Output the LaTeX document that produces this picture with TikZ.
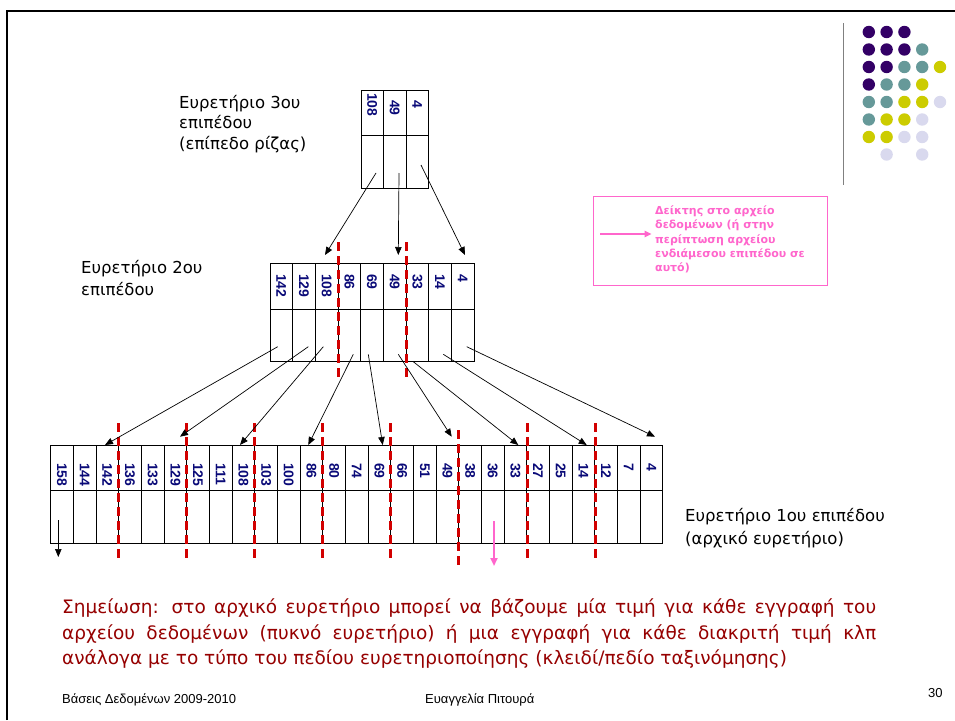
\documentclass[tikz,border=0pt]{standalone}
\usepackage{fontspec}
\setmainfont{DejaVu Sans}
\newfontfamily\comic{DejaVu Sans}
\newfontfamily\arialf{Liberation Sans}
\usetikzlibrary{arrows.meta}
\definecolor{navyc}{RGB}{10,10,120}
\definecolor{redd}{RGB}{210,0,0}
\definecolor{pinkc}{RGB}{255,102,204}
\definecolor{notered}{RGB}{150,0,0}
\definecolor{dpurple}{RGB}{51,0,102}
\definecolor{dteal}{RGB}{102,153,153}
\definecolor{dyellow}{RGB}{204,204,0}
\definecolor{dlav}{RGB}{217,217,238}
\tikzset{
  cell/.style={draw=black, line width=0.8pt},
  num/.style={font=\arialf\bfseries\fontsize{14}{14}\selectfont, text=navyc, rotate=-90, anchor=west, inner sep=0pt},
  arr/.style={-{Triangle[length=8pt,width=6.5pt]}, line width=0.7pt, black},
  rdash/.style={draw=redd, line width=3pt, dash pattern=on 9pt off 5pt},
  lbl/.style={font=\comic\fontsize{16.5}{20}\selectfont, anchor=base west, inner sep=0pt},
  notel/.style={font=\comic\fontsize{18.5}{24}\selectfont, text=notered, anchor=base west, inner sep=0pt},
  legl/.style={font=\comic\bfseries\fontsize{11}{14}\selectfont, text=pinkc, anchor=base west, inner sep=0pt},
  foot/.style={font=\arialf\fontsize{13}{15}\selectfont, anchor=base west, inner sep=0pt},
  dot/.style={radius=6.2pt}
}
\begin{document}
\begin{tikzpicture}[x=1pt,y=-1pt]
\useasboundingbox (0,0) rectangle (955,720);
\fill[white] (0,0) rectangle (955,720);
% slide border
\draw[line width=2pt] (7,720) -- (7,11) -- (955,11);
% decoration
\draw[gray, line width=1pt] (843,23) -- (843,185);
\foreach \i/\j in {1/1,2/1,3/1,1/2,2/2,3/2,1/3,2/3,1/4}
  \fill[dpurple] ({851+17.8*\i},{14.5+17.5*\j}) circle[dot];
\foreach \i/\j in {4/2,3/3,4/3,2/4,3/4,1/5,2/5,1/6}
  \fill[dteal] ({851+17.8*\i},{14.5+17.5*\j}) circle[dot];
\foreach \i/\j in {5/3,4/4,3/5,4/5,2/6,3/6,1/7,2/7}
  \fill[dyellow] ({851+17.8*\i},{14.5+17.5*\j}) circle[dot];
\foreach \i/\j in {5/5,4/6,3/7,4/7,2/8,4/8}
  \fill[dlav] ({851+17.8*\i},{14.5+17.5*\j}) circle[dot];

% ---------- root (level 3)
\foreach \k in {0,1,2} {
  \draw[cell] ({361+22.5*\k},90) rectangle ({361+22.5*(\k+1)},135);
  \draw[cell] ({361+22.5*\k},135) rectangle ({361+22.5*(\k+1)},188);
}
\node[num] (t1) at (372.25,93) {108};
\node[num] (t2) at (394.75,100) {49};
\node[num] (t3) at (417.25,100) {4};

% ---------- level 2
\foreach \lab [count=\k from 0] in {142,129,108,86,69,49,33,14,4} {
  \draw[cell] ({270+22.67*\k},263.3) rectangle ({270+22.67*(\k+1)},309);
  \draw[cell] ({270+22.67*\k},309) rectangle ({270+22.67*(\k+1)},361.7);
  \node[num] (s\k) at ({270+22.67*(\k+0.5)},274) {\lab};
}

% ---------- level 1
\foreach \lab [count=\k from 0] in {158,144,142,136,133,129,125,111,108,103,100,86,80,74,69,66,51,49,38,36,33,27,25,14,12,7,4} {
  \draw[cell] ({50.7+22.67*\k},445) rectangle ({50.7+22.67*(\k+1)},490.3);
  \draw[cell] ({50.7+22.67*\k},490.3) rectangle ({50.7+22.67*(\k+1)},543);
  \node[num] (f\k) at ({50.7+22.67*(\k+0.5)},463) {\lab};
}

% ---------- red dashed separators
\draw[rdash] (338.3,242) -- (338.3,380);
\draw[rdash] (406.7,242) -- (406.7,380);
\foreach \xx in {118.7,186.7,254.7,322.7,390.7,527.3,595.3}
  \draw[rdash] (\xx,423) -- (\xx,558);
\draw[rdash] (458.7,430) -- (458.7,566);

% ---------- arrows root -> level 2
\coordinate (a1s) at (376,173);   \coordinate (a1e) at (325,255);
\coordinate (a2s) at (399,173);   \coordinate (a2e) at (398.3,255);
\coordinate (a3s) at (421,165);   \coordinate (a3e) at (465,255);
\draw[arr] (a1s) -- (a1e);
\draw[arr] (a2s) -- (a2e);
\draw[arr] (a3s) -- (a3e);

% ---------- arrows level 2 -> level 1
\coordinate (b1s) at (277.7,346.7); \coordinate (b1e) at (105,445);
\coordinate (b2s) at (308.3,346.7); \coordinate (b2e) at (180,436.7);
\coordinate (b3s) at (323.3,346.7); \coordinate (b3e) at (240,445);
\coordinate (b4s) at (353.3,354.3); \coordinate (b4e) at (308.3,445);
\coordinate (b5s) at (368.3,354.3); \coordinate (b5e) at (382.7,445);
\coordinate (b6s) at (398.3,354.3); \coordinate (b6e) at (451.7,436.7);
\coordinate (b7s) at (413.3,361.7); \coordinate (b7e) at (518.3,445);
\coordinate (b8s) at (443.3,354.3); \coordinate (b8e) at (586.7,445);
\coordinate (b9s) at (466.7,346.7); \coordinate (b9e) at (655,436.7);
\foreach \n in {1,...,9} \draw[arr] (b\n s) -- (b\n e);

% ---------- arrows out of level 1
\coordinate (c1s) at (58.3,520); \coordinate (c1e) at (58.3,557);
\draw[arr] (c1s) -- (c1e);
\coordinate (p1s) at (494,521); \coordinate (p1e) at (494,566);
\draw[-{Triangle[length=8pt,width=7pt]}, line width=2.2pt, pinkc] (p1s) -- (p1e);

% ---------- legend
\node[draw=pinkc, line width=0.8pt, minimum width=234.6pt, minimum height=89pt, anchor=north west, inner sep=0pt] (legend) at (592.7,196) {};
\coordinate (l1s) at (600,234); \coordinate (l1e) at (651.7,234);
\draw[-{Triangle[length=7pt,width=6pt]}, line width=2.2pt, pinkc] (l1s) -- (l1e);
\node[legl] (g1) at (655,214) {Δείκτης στο αρχείο};
\node[legl] (g2) at (655,228.3) {δεδομένων (ή στην};
\node[legl] (g3) at (655,243) {περίπτωση αρχείου};
\node[legl] (g4) at (655,257.3) {ενδιάμεσου επιπέδου σε};
\node[legl] (g5) at (655,271.7) {αυτό)};

% ---------- level labels
\node[lbl] (L3a) at (179,108.5) {Ευρετήριο 3ου};
\node[lbl] (L3b) at (179,128.5) {επιπέδου};
\node[lbl] (L3c) at (179,149) {(επίπεδο ρίζας)};
\node[lbl] (L2a) at (81,273.5) {Ευρετήριο 2ου};
\node[lbl] (L2b) at (81,295.5) {επιπέδου};
\node[lbl] (L1a) at (685,521.5) {Ευρετήριο 1ου επιπέδου};
\node[lbl] (L1b) at (685,544.5) {(αρχικό ευρετήριο)};

% ---------- note
\node[notel] (N1) at (62,613.7) {\makebox[814pt][s]{Σημείωση: στο αρχικό ευρετήριο μπορεί να βάζουμε μία τιμή για κάθε εγγραφή του}};
\node[notel] (N2) at (62,639.7) {\makebox[814pt][s]{αρχείου δεδομένων (πυκνό ευρετήριο) ή μια εγγραφή για κάθε διακριτή τιμή κλπ}};
\node[notel] (N3) at (62,664.7) {ανάλογα με το τύπο του πεδίου ευρετηριοποίησης (κλειδί/πεδίο ταξινόμησης)};

% ---------- footer
\node[foot] (F1) at (62,703) {Βάσεις Δεδομένων 2009-2010};
\node[foot] (F2) at (425,703) {Ευαγγελία Πιτουρά};
\node[foot] (F3) at (928,697) {30};
\end{tikzpicture}
\end{document}
